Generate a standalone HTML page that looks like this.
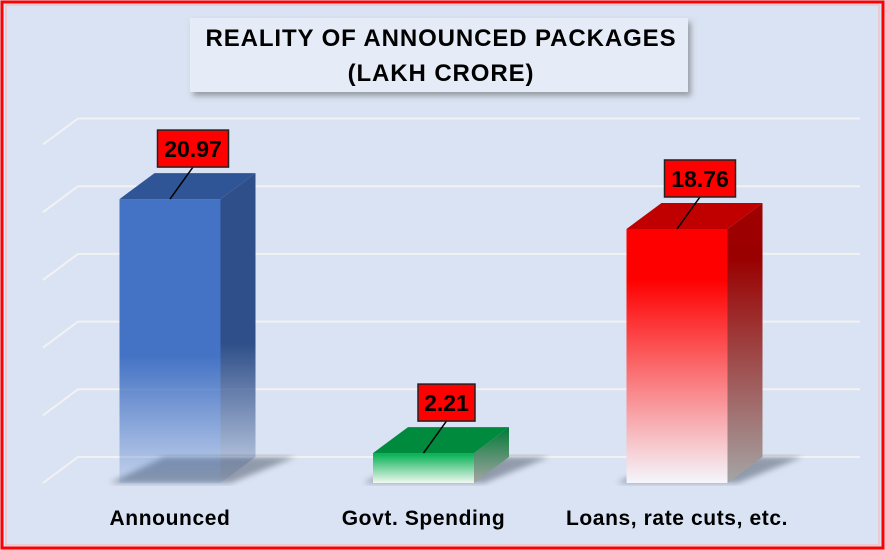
<!DOCTYPE html>
<html><head><meta charset="utf-8"><style>
html,body{margin:0;padding:0;background:#fff}
svg{display:block;font-family:"Liberation Sans",sans-serif}
</style></head><body>
<svg id="c" width="885" height="550" viewBox="0 0 885 550">
<defs>
<linearGradient id="gBlue" x1="0" y1="0" x2="0" y2="1"><stop offset="0" stop-color="#4472c4"/><stop offset="0.55" stop-color="#4472c4"/><stop offset="1" stop-color="#4472c4" stop-opacity="0.15"/></linearGradient>
<linearGradient id="sBlue" x1="0" y1="0" x2="0" y2="1"><stop offset="0" stop-color="#2f4f8a"/><stop offset="0.55" stop-color="#2f4f8a"/><stop offset="1" stop-color="#2f4f8a" stop-opacity="0.1"/></linearGradient>
<linearGradient id="gRed" x1="0" y1="0" x2="0" y2="1"><stop offset="0" stop-color="#ff0000"/><stop offset="0.2" stop-color="#ff0000"/><stop offset="1" stop-color="#f4f6fc"/></linearGradient>
<linearGradient id="sRed" x1="0" y1="0" x2="0" y2="1"><stop offset="0" stop-color="#a00000"/><stop offset="0.2" stop-color="#9a0000"/><stop offset="1" stop-color="#a5a5a5"/></linearGradient>
<linearGradient id="gGreen" x1="0" y1="0" x2="0" y2="1"><stop offset="0" stop-color="#00b050"/><stop offset="1" stop-color="#f0f8f0"/></linearGradient>
<linearGradient id="sGreen" x1="0" y1="0" x2="0" y2="1"><stop offset="0" stop-color="#007a36"/><stop offset="1" stop-color="#a5a5a5"/></linearGradient>
<filter id="sh" x="-10%" y="-10%" width="130%" height="140%"><feDropShadow dx="3" dy="4" stdDeviation="3" flood-color="#555" flood-opacity="0.5"/></filter>
<filter id="blur"><feGaussianBlur stdDeviation="3"/></filter>
</defs>
<rect x="0" y="0" width="885" height="550" fill="#dae3f3"/>
<rect x="2" y="2" width="881" height="546" fill="none" stroke="#ff0000" stroke-width="3"/>
<rect x="6" y="5" width="873" height="540" fill="none" stroke="#ffb0b0" stroke-width="1"/>
<g id="grid"></g>
<g id="bars"></g>
<g id="labels"></g>
<g>
<rect x="190" y="18" width="498" height="74" fill="#e6ecf7" filter="url(#sh)"/>
<text x="441" y="46" text-anchor="middle" font-size="24" font-weight="bold" letter-spacing="0.9" fill="#000">REALITY OF ANNOUNCED PACKAGES</text>
<text x="441" y="81" text-anchor="middle" font-size="24" font-weight="bold" letter-spacing="0.9" fill="#000">(LAKH CRORE)</text>
</g>
</svg>
<script>
const categories = ["Announced", "Govt. Spending", "Loans, rate cuts, etc."];
const values = [20.97, 2.21, 18.76];
const valueLabels = ["20.97", "2.21", "18.76"];
const gridTicks = [0, 5, 10, 15, 20, 25];

const NS = "http://www.w3.org/2000/svg";
const floorY = 483, pxPerUnit = 13.54, dx = 35, dy = -26, barW = 101;
const x0 = 170, step = 253.5;
const fills = [["url(#gBlue)","url(#sBlue)","#2f5597"],["url(#gGreen)","url(#sGreen)","#008a3e"],["url(#gRed)","url(#sRed)","#c00000"]];
function yScale(v){ return floorY - v * pxPerUnit; }
function xCenter(i){ return x0 + i * step; }
function mk(tag, attrs, parent){ const e=document.createElementNS(NS,tag); for(const k in attrs) e.setAttribute(k, attrs[k]); parent.appendChild(e); return e; }

const grid = document.getElementById('grid');
gridTicks.forEach(t => {
  const y = yScale(t);
  const l = mk('polyline', {points: `43,${y} ${43+dx},${y+dy} 860,${y+dy}`, fill:'none', stroke:'#f2f2f2', 'stroke-width':2}, grid);
  
  
});

const bars = document.getElementById('bars');
const labels = document.getElementById('labels');
values.forEach((v, i) => {
  const cx = xCenter(i), x = cx - barW/2, top = yScale(v);
  const g = mk('g', {}, bars);
  
  
  mk('polygon', {points:`${x-10},${floorY} ${x+barW+10},${floorY} ${x+barW+dx+40},${floorY+dy} ${x+dx+10},${floorY+dy}`, fill:'#556070', opacity:0.55, filter:'url(#blur)'}, g);
  mk('polygon', {points:`${x+barW},${top} ${x+barW+dx},${top+dy} ${x+barW+dx},${floorY+dy} ${x+barW},${floorY}`, fill:fills[i][1]}, g);
  mk('polygon', {points:`${x},${top} ${x+dx},${top+dy} ${x+barW+dx},${top+dy} ${x+barW},${top}`, fill:fills[i][2]}, g);
  mk('rect', {x:x, y:top, width:barW, height:floorY-top, fill:fills[i][0]}, g);

  const lg = mk('g', {}, labels);
  
  
  const by = top - 69, bw = valueLabels[i].length > 4 ? 71 : 57, bx = cx + 23;
  mk('line', {x1:cx, y1:top, x2:bx, y2:by+37, stroke:'#000', 'stroke-width':1.5}, lg);
  mk('rect', {x:bx-bw/2, y:by, width:bw, height:37, fill:'#ff0000', stroke:'#222', 'stroke-width':1.5}, lg);
  const t = mk('text', {x:bx, y:by+27, 'text-anchor':'middle', 'font-size':23, 'font-weight':'bold', fill:'#000'}, lg);
  t.textContent = valueLabels[i];

  const ct = mk('text', {x:cx, y:525, 'text-anchor':'middle', 'font-size':21, 'font-weight':'bold', 'letter-spacing':0.6, fill:'#000'}, labels);
  
  
  ct.textContent = categories[i];
});
</script>
</body></html>
